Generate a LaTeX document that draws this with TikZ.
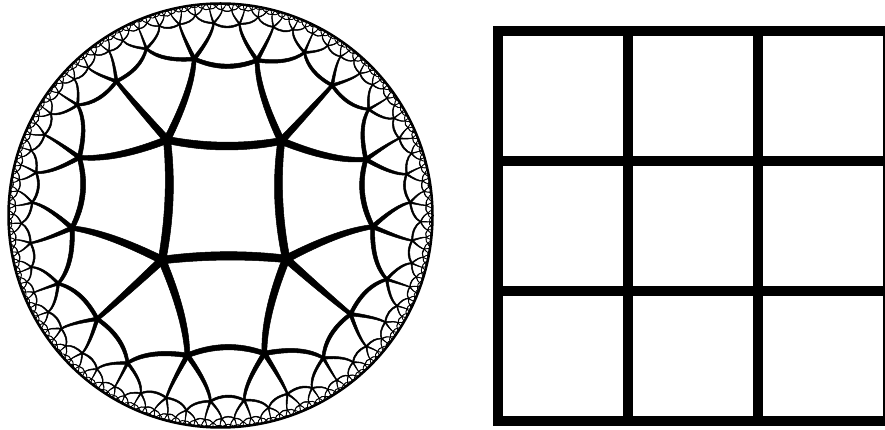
\documentclass[tikz,border=0pt]{standalone}
\usepackage{tikz}

% disk of the tiling (in pt, y upwards)
\def\diskx{220.5}
\def\disky{214.5}
\def\diskr{213}
% shift of the central square, half width of a line, cut-off of the tiles
\def\shiftx{0.017}
\def\shifty{0.073}
\def\halfw{0.041}
\def\tmax{130}
\edef\chd{\fpeval{(exp(\halfw)+exp(-\halfw))/2}}
\edef\shd{\fpeval{(exp(\halfw)-exp(-\halfw))/2}}
\edef\rr{\fpeval{sqrt((cosd(36)/sind(36))^2-1)/(1+cosd(36)/sind(36))/sqrt(2)}}

\newcount\tilecount
\newcount\tilehead

% points on the hyperboloid: \vx{A}, \vy{A}, \vt{A}
\newcommand\vx[1]{\csname p#1x\endcsname}
\newcommand\vy[1]{\csname p#1y\endcsname}
\newcommand\vt[1]{\csname p#1t\endcsname}
\newcommand\setpt[4]{%
  \expandafter\edef\csname p#1x\endcsname{\fpeval{#2}}%
  \expandafter\edef\csname p#1y\endcsname{\fpeval{#3}}%
  \expandafter\edef\csname p#1t\endcsname{\fpeval{#4}}}
\newcommand\setraw[4]{%
  \expandafter\def\csname p#1x\endcsname{#2}%
  \expandafter\def\csname p#1y\endcsname{#3}%
  \expandafter\def\csname p#1t\endcsname{#4}}
\newcommand\loadpt[2]{\edef\tmp{\noexpand\setraw{#1}\csname #2\endcsname}\tmp}
\newcommand\savept[2]{\expandafter\edef\csname #2\endcsname{{\vx{#1}}{\vy{#1}}{\vt{#1}}}}

% disk point -> shifted -> hyperboloid
\newcommand\liftpt[3]{%
  \edef\ur{\fpeval{1+\shiftx*(#2)+\shifty*(#3)}}%
  \edef\ui{\fpeval{\shiftx*(#3)-\shifty*(#2)}}%
  \edef\uu{\fpeval{(\ur)^2+(\ui)^2}}%
  \edef\wx{\fpeval{(((#2)+\shiftx)*\ur+((#3)+\shifty)*\ui)/\uu}}%
  \edef\wy{\fpeval{(((#3)+\shifty)*\ur-((#2)+\shiftx)*\ui)/\uu}}%
  \edef\wq{\fpeval{1-(\wx)^2-(\wy)^2}}%
  \setpt{#1}{2*\wx/\wq}{2*\wy/\wq}{(2-\wq)/\wq}}

% hyperboloid -> picture
\newcommand\projpt[4]{%
  \edef\tmpd{\fpeval{\diskr/(1+(#4))}}%
  \expandafter\edef\csname #1X\endcsname{\fpeval{round(\diskx+(#2)*\tmpd,3)}}%
  \expandafter\edef\csname #1Y\endcsname{\fpeval{round(\disky+(#3)*\tmpd,3)}}}

\newcommand\reflectpt[2]{%
  \edef\kk{\fpeval{2*(\vx{#1}*\nx+\vy{#1}*\ny-\vt{#1}*\nt)/\nn}}%
  \setpt{#2}{\vx{#1}-\kk*\nx}{\vy{#1}-\kk*\ny}{\vt{#1}-\kk*\nt}}

\newcommand\tilekey[4]{%
  \edef\sx{\fpeval{\vx{#1}+\vx{#2}+\vx{#3}+\vx{#4}}}%
  \edef\sy{\fpeval{\vy{#1}+\vy{#2}+\vy{#3}+\vy{#4}}}%
  \edef\st{\fpeval{\vt{#1}+\vt{#2}+\vt{#3}+\vt{#4}}}%
  \edef\mm{\fpeval{sqrt((\st)^2-(\sx)^2-(\sy)^2)}}%
  \edef\ct{\fpeval{\st/\mm}}%
  \edef\tkey{\fpeval{round(2+\sx/(\mm+\st),4)}:\fpeval{round(2+\sy/(\mm+\st),4)}}}

% one edge as a band of constant hyperbolic width
\newcommand\drawband[2]{%
  \edef\nsc{\fpeval{\shd/sqrt(\nn)}}%
  \projpt{AP}{\chd*\vx{#1}+\nsc*\nx}{\chd*\vy{#1}+\nsc*\ny}{\chd*\vt{#1}+\nsc*\nt}%
  \projpt{AM}{\chd*\vx{#1}-\nsc*\nx}{\chd*\vy{#1}-\nsc*\ny}{\chd*\vt{#1}-\nsc*\nt}%
  \projpt{BP}{\chd*\vx{#2}+\nsc*\nx}{\chd*\vy{#2}+\nsc*\ny}{\chd*\vt{#2}+\nsc*\nt}%
  \projpt{BM}{\chd*\vx{#2}-\nsc*\nx}{\chd*\vy{#2}-\nsc*\ny}{\chd*\vt{#2}-\nsc*\nt}%
  \projpt{MP}{\chd*\vx{M}+\nsc*\nx}{\chd*\vy{M}+\nsc*\ny}{\chd*\vt{M}+\nsc*\nt}%
  \projpt{MM}{\chd*\vx{M}-\nsc*\nx}{\chd*\vy{M}-\nsc*\ny}{\chd*\vt{M}-\nsc*\nt}%
  \filldraw[band] (\APX,\APY)
    .. controls ({(4*\MPX-\BPX)/3},{(4*\MPY-\BPY)/3}) and ({(4*\MPX-\APX)/3},{(4*\MPY-\APY)/3}) .. (\BPX,\BPY)
    -- (\BMX,\BMY)
    .. controls ({(4*\MMX-\AMX)/3},{(4*\MMY-\AMY)/3}) and ({(4*\MMX-\BMX)/3},{(4*\MMY-\BMY)/3}) .. (\AMX,\AMY)
    -- cycle;}

% edge #1-#2 of a tile #1 #2 #3 #4, and the tile beyond it
\newcommand\processedge[4]{%
  \edef\nx{\fpeval{\vy{#1}*\vt{#2}-\vt{#1}*\vy{#2}}}%
  \edef\ny{\fpeval{\vt{#1}*\vx{#2}-\vx{#1}*\vt{#2}}}%
  \edef\nt{\fpeval{\vy{#1}*\vx{#2}-\vx{#1}*\vy{#2}}}%
  \edef\nn{\fpeval{(\nx)^2+(\ny)^2-(\nt)^2}}%
  \edef\sx{\fpeval{\vx{#1}+\vx{#2}}}%
  \edef\sy{\fpeval{\vy{#1}+\vy{#2}}}%
  \edef\st{\fpeval{\vt{#1}+\vt{#2}}}%
  \edef\mm{\fpeval{sqrt((\st)^2-(\sx)^2-(\sy)^2)}}%
  \setpt{M}{\sx/\mm}{\sy/\mm}{\st/\mm}%
  \edef\ekey{\fpeval{round(2+\sx/(\mm+\st),4)}:\fpeval{round(2+\sy/(\mm+\st),4)}}%
  \ifcsname E\ekey\endcsname\else
    \expandafter\let\csname E\ekey\endcsname\empty
    \drawband{#1}{#2}%
  \fi
  \reflectpt{#3}{E}%
  \reflectpt{#4}{F}%
  \tilekey{#1}{#2}{E}{F}%
  \ifnum\fpeval{\ct<\tmax}=1
    \ifcsname T\tkey\endcsname\else
      \expandafter\let\csname T\tkey\endcsname\empty
      \global\advance\tilecount1
      \savept{#1}{q\the\tilecount a}%
      \savept{#2}{q\the\tilecount b}%
      \savept{E}{q\the\tilecount c}%
      \savept{F}{q\the\tilecount d}%
    \fi
  \fi}

\newcommand\processtile{%
  \loadpt{A}{q\the\tilehead a}%
  \loadpt{B}{q\the\tilehead b}%
  \loadpt{C}{q\the\tilehead c}%
  \loadpt{D}{q\the\tilehead d}%
  \ifnum\tilehead=1 \processedge{A}{B}{C}{D}\fi
  \processedge{B}{C}{D}{A}%
  \processedge{C}{D}{A}{B}%
  \processedge{D}{A}{B}{C}}

\begin{document}
\begin{tikzpicture}[
  x=1pt, y=1pt,
  band/.style={fill=black, draw=black, line width=0.5pt, line join=round},
  rim/.style={draw=black, line width=2.5pt},
  gridline/.style={draw=black, line width=10pt}
]
\useasboundingbox (0,0) rectangle (885,430);
\clip (0,0) rectangle (885,430);

% Tiling {4,5}: central square, then tile by tile outwards
\liftpt{A}{-\rr}{\rr}
\liftpt{B}{\rr}{\rr}
\liftpt{C}{\rr}{-\rr}
\liftpt{D}{-\rr}{-\rr}
\tilekey{A}{B}{C}{D}
\expandafter\let\csname T\tkey\endcsname\empty
\global\tilecount=1
\tilehead=0
\savept{A}{q1a}\savept{B}{q1b}\savept{C}{q1c}\savept{D}{q1d}
\loop\ifnum\tilehead<\tilecount
  \advance\tilehead1
  \processtile
\repeat

\draw[rim] (\diskx,\disky) circle[radius=212];

% Grid
\draw[gridline] (498,9) rectangle (888,399);
\foreach \gx in {628,758}
  \draw[gridline] (\gx,9) -- (\gx,399);
\foreach \gy in {139,269}
  \draw[gridline] (498,\gy) -- (888,\gy);

\end{tikzpicture}
\end{document}
